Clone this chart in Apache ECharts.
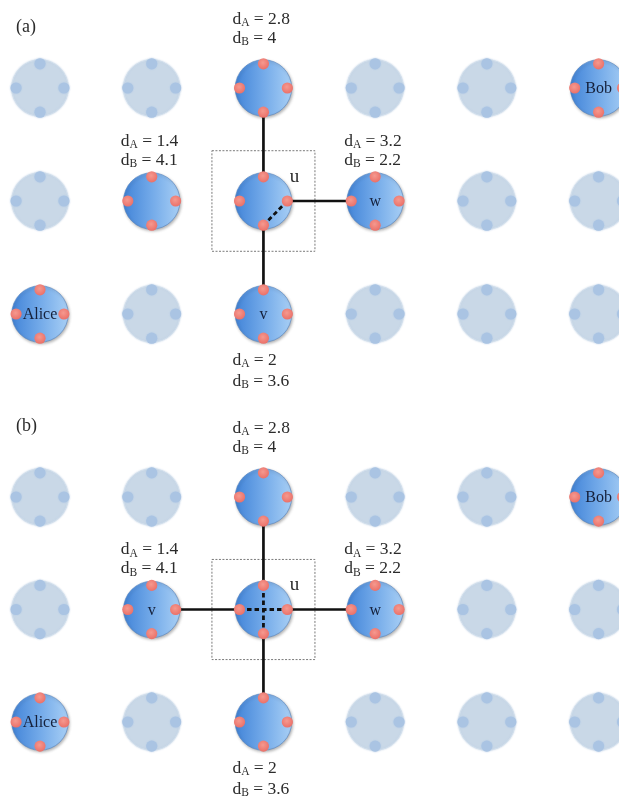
<!DOCTYPE html>
<html>
<head>
<meta charset="utf-8">
<style>
  html, body { margin: 0; padding: 0; background: #ffffff; }
  #chart { width: 619px; height: 804px; }
</style>
<script src="https://cdn.jsdelivr.net/npm/echarts@6/dist/echarts.min.js"></script>
</head>
<body>
<div id="chart"></div>
<script>
// Lattice of nodes: 6 columns x 3 rows in each panel
const COLS = 6, ROWS = 3;
const panelTags = ['(a)', '(b)'];

// Nodes that hold an entangled qubit pair: [col, row]
const activeNodesA = [[2, 0], [5, 0], [1, 1], [2, 1], [3, 1], [0, 2], [2, 2]];
const activeNodesB = [[2, 0], [5, 0], [1, 1], [2, 1], [3, 1], [0, 2], [2, 2]];
// Names written inside nodes: [col, row, name]
const nodeNamesA = [[5, 0, 'Bob'], [3, 1, 'w'], [0, 2, 'Alice'], [2, 2, 'v']];
const nodeNamesB = [[5, 0, 'Bob'], [1, 1, 'v'], [3, 1, 'w'], [0, 2, 'Alice']];

// Distance estimates to Alice (dA) and to Bob (dB): [col, row, dA, dB]
const distancesA = [[2, 0, 2.8, 4], [1, 1, 1.4, 4.1], [3, 1, 3.2, 2.2], [2, 2, 2, 3.6]];
const distancesB = [[2, 0, 2.8, 4], [1, 1, 1.4, 4.1], [3, 1, 3.2, 2.2], [2, 2, 2, 3.6]];

// Channels between neighbouring nodes: [fromCol, fromRow, toCol, toRow]
const linksA = [[2, 0, 2, 1], [2, 1, 2, 2], [2, 1, 3, 1]];
const linksB = [[2, 0, 2, 1], [2, 1, 2, 2], [2, 1, 3, 1], [1, 1, 2, 1]];

// Local operations inside the switching node: [col, row, fromPort, toPort]
const innerA = [[2, 1, 'right', 'bottom']];
const innerB = [[2, 1, 'left', 'right'], [2, 1, 'top', 'bottom']];

// Node under consideration: [col, row, name]
const focusA = [2, 1, 'u'];
const focusB = [2, 1, 'u'];

const SERIF = '"Liberation Serif", "Times New Roman", serif';
const INK = '#2b2b2b';
const PORTS = { top: [0, -1], bottom: [0, 1], left: [-1, 0], right: [1, 0] };

// Geometry relative to one lattice step
const R_FRAC = 0.253;      // circle radius
const PORT_FRAC = 0.214;   // distance of a port dot from the centre
const DOT_FRAC = 0.05;     // port dot radius
const BOX_FRAC_X = 0.461, BOX_FRAC_Y = 0.445;

const panels = [
  { active: activeNodesA, names: nodeNamesA, dist: distancesA, links: linksA, inner: innerA, focus: focusA },
  { active: activeNodesB, names: nodeNamesB, dist: distancesB, links: linksB, inner: innerB, focus: focusB }
];

function isActive(list, c, r) {
  return list.some(function (n) { return n[0] === c && n[1] === r; });
}

function latticeData(panel) {
  const out = [];
  for (let r = 0; r < ROWS; r++) {
    for (let c = 0; c < COLS; c++) {
      out.push([c, r, isActive(panel.active, c, r) ? 1 : 0]);
    }
  }
  return out;
}

const activeFill = new echarts.graphic.LinearGradient(0, 0, 1, 0, [
  { offset: 0, color: '#4284d8' },
  { offset: 0.5, color: '#73aae9' },
  { offset: 1, color: '#a8cff5' }
]);
const dotFill = new echarts.graphic.RadialGradient(0.45, 0.4, 0.65, [
  { offset: 0, color: '#f5998f' },
  { offset: 1, color: '#ea6d65' }
]);

function richDist(letter, value) {
  return '{d|d}{s|' + letter + '}{d| = ' + value + '}';
}
const RICH = {
  d: { fontSize: 17.5, fontFamily: SERIF, lineHeight: 20, fill: INK },
  s: { fontSize: 11.5, fontFamily: SERIF, lineHeight: 11, fill: INK, verticalAlign: 'bottom' }
};

function stepOf(api) {
  const sx = api.size([1, 0])[0];
  const sy = api.size([0, 1])[1];
  return [sx, sy];
}

function buildPanelSeries(panel, idx) {
  const axis = { xAxisIndex: idx, yAxisIndex: idx };
  const series = [];

  // dashed frame around the node under consideration
  series.push(Object.assign({
    type: 'custom', z: 0, silent: true, clip: false,
    data: [[panel.focus[0], panel.focus[1]]],
    renderItem: function (params, api) {
      const p = api.coord([api.value(0), api.value(1)]);
      const s = stepOf(api);
      const hx = s[0] * BOX_FRAC_X, hy = s[1] * BOX_FRAC_Y;
      return {
        type: 'rect',
        shape: { x: p[0] - hx, y: p[1] - hy, width: 2 * hx, height: 2 * hy },
        style: { fill: 'none', stroke: '#7a7a7a', lineWidth: 1, lineDash: [2, 1.5] }
      };
    }
  }, axis));

  // channels between nodes, drawn port to port
  series.push(Object.assign({
    type: 'custom', z: 1, silent: true, clip: false,
    data: panel.links,
    renderItem: function (params, api) {
      const a = api.coord([api.value(0), api.value(1)]);
      const b = api.coord([api.value(2), api.value(3)]);
      const s = stepOf(api);
      const dx = b[0] - a[0], dy = b[1] - a[1];
      const len = Math.sqrt(dx * dx + dy * dy);
      const ux = dx / len, uy = dy / len;
      const off = PORT_FRAC * (Math.abs(ux) * s[0] + Math.abs(uy) * s[1]);
      return {
        type: 'line',
        shape: { x1: a[0] + ux * off, y1: a[1] + uy * off, x2: b[0] - ux * off, y2: b[1] - uy * off },
        style: { stroke: '#111111', lineWidth: 2.7 }
      };
    }
  }, axis));

  const lattice = latticeData(panel);

  // node discs
  series.push(Object.assign({
    type: 'custom', z: 2, silent: true, clip: false,
    data: lattice,
    renderItem: function (params, api) {
      const p = api.coord([api.value(0), api.value(1)]);
      const s = stepOf(api);
      const r = R_FRAC * s[0];
      const on = api.value(2) === 1;
      return {
        type: 'circle',
        shape: { cx: p[0], cy: p[1], r: r },
        style: on ? {
          fill: activeFill, stroke: '#5282bd', lineWidth: 0.6,
          shadowBlur: 3, shadowOffsetX: 1, shadowOffsetY: 1.5, shadowColor: 'rgba(0,0,0,0.3)'
        } : {
          fill: '#c9d8e7', stroke: '#d2dfec', lineWidth: 1,
          shadowBlur: 2, shadowColor: 'rgba(190,208,228,0.9)'
        }
      };
    }
  }, axis));

  // local operations inside a node (dashed)
  series.push(Object.assign({
    type: 'custom', z: 3, silent: true, clip: false,
    data: panel.inner.map(function (d) { return [d[0], d[1]]; }),
    renderItem: function (params, api) {
      const item = panel.inner[params.dataIndex];
      const p = api.coord([api.value(0), api.value(1)]);
      const s = stepOf(api);
      const f = PORTS[item[2]], t = PORTS[item[3]];
      return {
        type: 'line',
        shape: {
          x1: p[0] + f[0] * PORT_FRAC * s[0], y1: p[1] + f[1] * PORT_FRAC * s[1],
          x2: p[0] + t[0] * PORT_FRAC * s[0], y2: p[1] + t[1] * PORT_FRAC * s[1]
        },
        style: { stroke: '#111111', lineWidth: 2.8, lineDash: [4.5, 3] }
      };
    }
  }, axis));

  // four port dots on every node
  series.push(Object.assign({
    type: 'custom', z: 4, silent: true, clip: false,
    data: lattice,
    renderItem: function (params, api) {
      const p = api.coord([api.value(0), api.value(1)]);
      const s = stepOf(api);
      const on = api.value(2) === 1;
      const dr = DOT_FRAC * s[0];
      const children = Object.keys(PORTS).map(function (k) {
        const d = PORTS[k];
        return {
          type: 'circle',
          shape: { cx: p[0] + d[0] * PORT_FRAC * s[0], cy: p[1] + d[1] * PORT_FRAC * s[1], r: dr },
          style: on ? { fill: dotFill } : { fill: '#aac4e3', shadowBlur: 2, shadowColor: 'rgba(170,196,227,0.8)' }
        };
      });
      return { type: 'group', children: children };
    }
  }, axis));

  // names written inside nodes
  series.push(Object.assign({
    type: 'custom', z: 5, silent: true, clip: false,
    data: panel.names.map(function (d) { return [d[0], d[1]]; }),
    renderItem: function (params, api) {
      const p = api.coord([api.value(0), api.value(1)]);
      return {
        type: 'text', x: p[0], y: p[1] + 1,
        style: {
          text: panel.names[params.dataIndex][2],
          fontSize: 16, fontFamily: SERIF, fill: '#15203a',
          align: 'center', verticalAlign: 'middle', textAlign: 'center', textVerticalAlign: 'middle'
        }
      };
    }
  }, axis));

  // label of the node under consideration
  series.push(Object.assign({
    type: 'custom', z: 5, silent: true, clip: false,
    data: [[panel.focus[0], panel.focus[1]]],
    renderItem: function (params, api) {
      const p = api.coord([api.value(0), api.value(1)]);
      return {
        type: 'text', x: p[0] + 31, y: p[1] - 24,
        style: {
          text: panel.focus[2], fontSize: 19, fontFamily: SERIF, fill: INK,
          align: 'center', verticalAlign: 'middle', textAlign: 'center', textVerticalAlign: 'middle'
        }
      };
    }
  }, axis));

  // distance estimates next to nodes
  series.push(Object.assign({
    type: 'custom', z: 5, silent: true, clip: false,
    data: panel.dist,
    renderItem: function (params, api) {
      const p = api.coord([api.value(0), api.value(1)]);
      const row = api.value(1);
      let yA, yB;
      if (row === 0) { yA = -69; yB = -50; }
      else if (row === ROWS - 1) { yA = 46; yB = 67; }
      else { yA = -60; yB = -41; }
      const x = p[0] - 31;
      const mk = function (letter, val, dy) {
        return {
          type: 'text', x: x, y: p[1] + dy,
          style: {
            text: richDist(letter, val), rich: RICH,
            fontSize: 17.5, fontFamily: SERIF, fill: INK,
            align: 'left', verticalAlign: 'middle', textAlign: 'left', textVerticalAlign: 'middle'
          }
        };
      };
      return {
        type: 'group',
        children: [mk('A', api.value(2), yA), mk('B', api.value(3), yB)]
      };
    }
  }, axis));

  return series;
}

const gridTops = [88, 497];
const gridHeights = [226, 225];

const option = {
  backgroundColor: '#ffffff',
  animation: false,
  grid: gridTops.map(function (t, i) {
    return { left: 40, top: t, width: 558.6, height: gridHeights[i], containLabel: false };
  }),
  xAxis: gridTops.map(function (t, i) {
    return { type: 'value', gridIndex: i, min: 0, max: COLS - 1, show: false };
  }),
  yAxis: gridTops.map(function (t, i) {
    return { type: 'value', gridIndex: i, min: 0, max: ROWS - 1, inverse: true, show: false };
  }),
  graphic: [
    { type: 'text', left: 16, top: 18, style: { text: panelTags[0], fontSize: 18, fontFamily: SERIF, fill: INK } },
    { type: 'text', left: 16, top: 417, style: { text: panelTags[1], fontSize: 18, fontFamily: SERIF, fill: INK } }
  ],
  series: buildPanelSeries(panels[0], 0).concat(buildPanelSeries(panels[1], 1))
};

const chart = echarts.init(document.getElementById('chart'), null, { renderer: 'canvas' });
chart.setOption(option);
</script>
</body>
</html>
